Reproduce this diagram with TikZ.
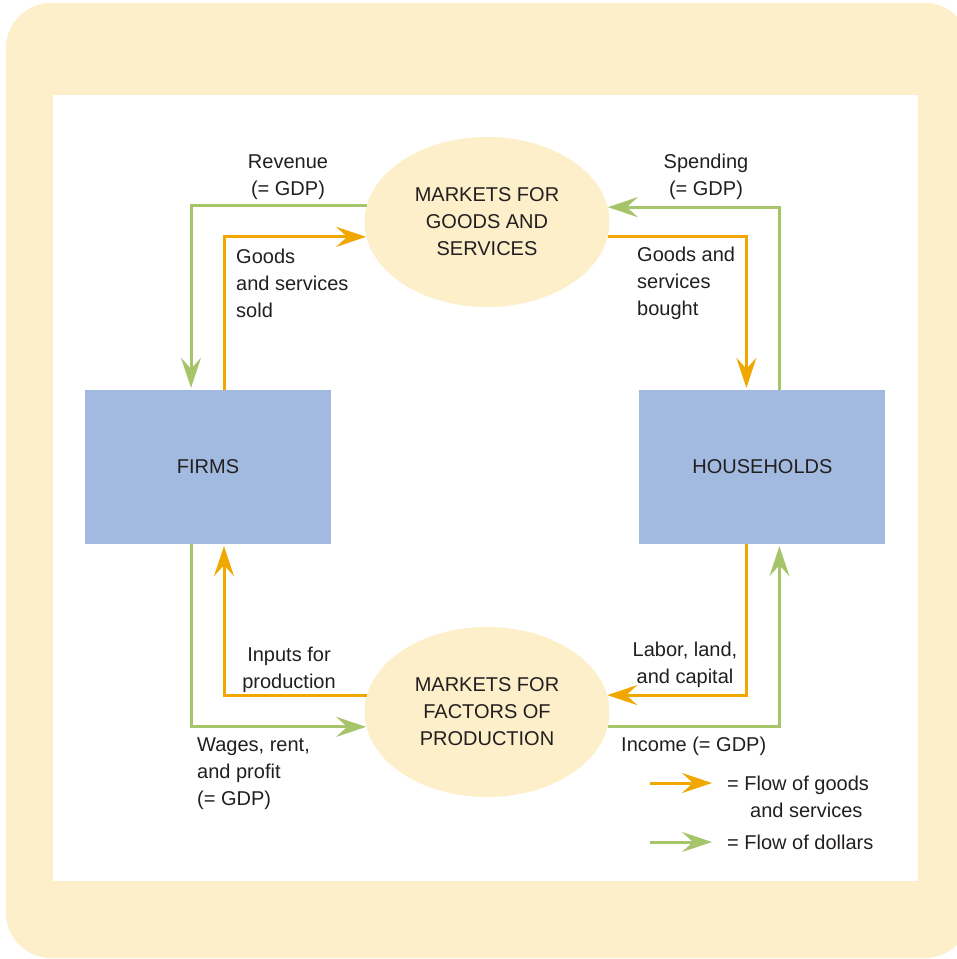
\documentclass[tikz,border=0pt]{standalone}
\usepackage{fontspec}
\setmainfont{Liberation Sans}
\usetikzlibrary{
    arrows.meta,
    positioning,
    shapes.geometric
}
\definecolor{flowgoods}{RGB}{240,168,0}
\definecolor{flowcash}{RGB}{166,196,106}
\definecolor{boxblue}{RGB}{163,186,224}
\definecolor{paleyel}{RGB}{252,239,201}
\definecolor{inkgray}{RGB}{35,31,32}
\newcommand{\flowfont}{\fontsize{20}{27}\selectfont}
\tikzset{
  agent/.style  = {fill=boxblue, minimum width=246pt, minimum height=154pt,
                   inner sep=0pt, font=\flowfont, text=inkgray},
  market/.style = {ellipse, fill=paleyel, minimum width=245pt,
                   minimum height=170pt, inner sep=0pt, align=center,
                   font=\flowfont, text=inkgray},
  lbl/.style    = {inner sep=0pt, align=center, font=\flowfont, text=inkgray},
  goods/.style  = {-{Stealth[length=30pt,width=20pt,inset=11pt]},
                   line width=3pt, flowgoods},
  cash/.style   = {-{Stealth[length=30pt,width=20pt,inset=11pt]},
                   line width=3pt, flowcash}
}

\begin{document}
\begin{tikzpicture}[x=1pt, y=-1pt]
  \useasboundingbox (0,0) rectangle (957,959);
  % frame
  \fill[paleyel, rounded corners=45pt] (6,3) rectangle (970,958);
  \fill[white] (53,95) rectangle (918,881);

  \node[agent] (firms) at (208,467) {FIRMS};
  \node[agent, right=308pt of firms] (house) {HOUSEHOLDS};
  \node[market] (gmk) at (487,222) {MARKETS FOR\\GOODS AND\\SERVICES};
  \node[market] (fmk) at (487,712) {MARKETS FOR\\FACTORS OF\\PRODUCTION};

  % top half
  \draw[cash] (gmk.172.4) -| ([xshift=-17pt,yshift=2pt]firms.north);
  \draw[goods] ([xshift=16pt]firms.north) |- (gmk.187.6);
  \draw[cash] ([xshift=17pt]house.north) |- (gmk.7.6);
  \draw[goods] (gmk.-7.6) -| ([xshift=-16pt,yshift=2pt]house.north);

  % bottom half
  \draw[goods] (fmk.172) -| ([xshift=16pt,yshift=-2pt]firms.south);
  \draw[cash] ([xshift=-17pt]firms.south) |- (fmk.187.1);
  \draw[goods] ([xshift=-16pt]house.south) |- (fmk.8);
  \draw[cash] (fmk.-7.1) -| ([xshift=17pt,yshift=-2pt]house.south);

  \node[lbl] (rev) at (288,177) {Revenue\\(= GDP)};
  \node[lbl, anchor=west, align=left] (sold) at (236,283)
        {Goods\\and services\\sold};
  \node[lbl] (spend) at (706,177) {Spending\\(= GDP)};
  \node[lbl, anchor=west, align=left] (bought) at (637,283)
        {Goods and\\services\\bought};
  \node[lbl] (inputs) at (289,670) {Inputs for\\production};
  \node[lbl, anchor=west, align=left] (wages) at (197,774)
        {Wages, rent,\\and profit\\(= GDP)};
  \node[lbl] (labor) at (685,665) {Labor, land,\\and capital};
  \node[lbl, anchor=base west] (income) at (621,751) {Income (= GDP)};

  % legend
  \coordinate (lga) at (650,783);
  \coordinate (lgb) at (650,842);
  \draw[goods] (lga) -- ++(62,0) coordinate (lgae);
  \draw[cash] (lgb) -- ++(62,0) coordinate (lgbe);
  \node[lbl, anchor=base west] (lgtxa) at (727,790) {= Flow of goods};
  \node[lbl, anchor=base west] (lgtxc) at (750,817) {and services};
  \node[lbl, anchor=base west] (lgtxb) at (727,849) {= Flow of dollars};
\end{tikzpicture}
\end{document}
